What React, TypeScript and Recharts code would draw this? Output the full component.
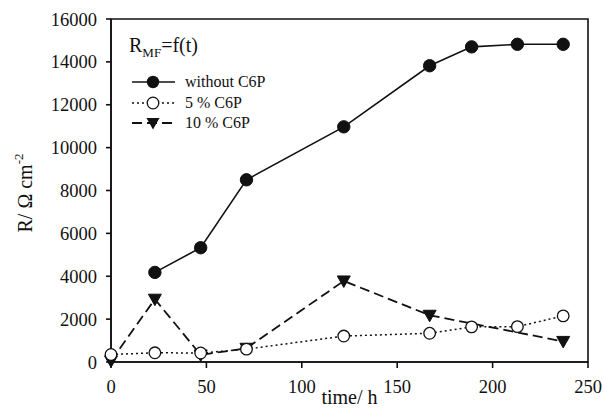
import React from 'react';
import { LineChart, Line, XAxis, YAxis, ReferenceArea, Legend } from 'recharts';

const timeWithout = [23, 47, 71, 122, 167, 189, 213, 237];
const rWithout = [4180, 5330, 8500, 10970, 13820, 14700, 14820, 14820];
const time5 = [0, 23, 47, 71, 122, 167, 189, 213, 237];
const r5 = [350, 430, 420, 600, 1210, 1340, 1640, 1650, 2150];
const time10 = [0, 23, 47, 71, 122, 167, 237];
const r10 = [50, 2930, 330, 640, 3780, 2180, 960];
const xTicks = [0, 50, 100, 150, 200, 250];
const yTicks = [0, 2000, 4000, 6000, 8000, 10000, 12000, 14000, 16000];
const seriesNames = ['without C6P', '5 % C6P', '10 % C6P'];

const FONT = 'Liberation Serif';
const INK = '#111';

const dataWithout = timeWithout.map((t, i) => ({ t, r: rWithout[i] }));
const data5 = time5.map((t, i) => ({ t, r: r5[i] }));
const data10 = time10.map((t, i) => ({ t, r: r10[i] }));

const FilledDot = (p: any) => (
  <circle key={`f-${p.index}`} cx={p.cx} cy={p.cy} r={6.2} fill={INK} stroke={INK} strokeWidth={1} />
);
const OpenDot = (p: any) => (
  <circle key={`o-${p.index}`} cx={p.cx} cy={p.cy} r={5.8} fill="#fff" stroke={INK} strokeWidth={1.3} />
);
const triPath = (cx: number, cy: number) =>
  `M${cx - 6.5},${cy - 5} L${cx + 6.5},${cy - 5} L${cx},${cy + 6.5} Z`;
const TriDot = (p: any) => (
  <path key={`t-${p.index}`} d={triPath(p.cx, p.cy)} fill={INK} stroke={INK} strokeWidth={1} />
);

const LegendContent = () => {
  const row = (i: number) => {
    const y = 10;
    let line;
    let marker;
    if (i === 0) {
      line = <line x1={3} y1={y} x2={46} y2={y} stroke={INK} strokeWidth={1.6} />;
      marker = <circle cx={24} cy={y} r={6.2} fill={INK} />;
    } else if (i === 1) {
      line = <line x1={3} y1={y} x2={46} y2={y} stroke={INK} strokeWidth={1.5} strokeDasharray="2 3" />;
      marker = <circle cx={24} cy={y} r={5.8} fill="#fff" stroke={INK} strokeWidth={1.3} />;
    } else {
      line = <line x1={3} y1={y} x2={46} y2={y} stroke={INK} strokeWidth={1.8} strokeDasharray="10 5" />;
      marker = <path d={triPath(24, y)} fill={INK} />;
    }
    return (
      <div key={i} style={{ display: 'flex', alignItems: 'center', height: 20.5 }}>
        <svg width={56} height={20} style={{ display: 'block' }}>
          {line}
          {marker}
        </svg>
        <span style={{ fontSize: 16, lineHeight: '20px', color: INK, fontFamily: FONT }}>{seriesNames[i]}</span>
      </div>
    );
  };
  return (
    <div style={{ fontFamily: FONT, color: INK }}>
      <div style={{ fontSize: 20, height: 26, lineHeight: '26px', marginBottom: 14 }}>
        R<sub style={{ fontSize: 13, verticalAlign: 'baseline', position: 'relative', top: 5 }}>MF</sub>=f(t)
      </div>
      {row(0)}
      {row(1)}
      {row(2)}
    </div>
  );
};

const YLabel = () => (
  <text
    transform="translate(32,193) rotate(-90)"
    textAnchor="middle"
    fontFamily={FONT}
    fontSize={20}
    fill={INK}
  >
    R/ Ω cm<tspan dy={-9} fontSize={13}>-2</tspan>
  </text>
);

export default function App() {
  return (
    <div style={{ position: 'absolute', left: 0, top: 0, background: '#fff', fontFamily: FONT }}>
      <LineChart width={605} height={416} margin={{ top: 19, right: 17, left: 0, bottom: 0 }} style={{ fontFamily: FONT }}>
        <XAxis
          dataKey="t"
          type="number"
          domain={[0, 250]}
          ticks={xTicks}
          allowDuplicatedCategory={false}
          height={54}
          stroke={INK}
          strokeWidth={1.6}
          tickSize={6}
          tickMargin={12}
          tick={{ fontFamily: FONT, fontSize: 18.5, fill: INK }}
          label={{ value: 'time/ h', position: 'insideBottom', offset: 12, fontFamily: FONT, fontSize: 20, fill: INK }}
        />
        <YAxis
          type="number"
          domain={[0, 16000]}
          ticks={yTicks}
          width={111}
          stroke={INK}
          strokeWidth={1.6}
          tickSize={5}
          tickMargin={9}
          tick={{ fontFamily: FONT, fontSize: 18.5, fill: INK }}
          label={<YLabel />}
        />
        <ReferenceArea x1={0} x2={250} y1={0} y2={16000} fill="none" stroke={INK} strokeWidth={1.6} ifOverflow="visible" />
        <Line
          data={data10}
          dataKey="r"
          name={seriesNames[2]}
          stroke={INK}
          strokeWidth={1.8}
          strokeDasharray="10 5"
          dot={TriDot}
          activeDot={false}
          isAnimationActive={false}
        />
        <Line
          data={data5}
          dataKey="r"
          name={seriesNames[1]}
          stroke={INK}
          strokeWidth={1.5}
          strokeDasharray="2 3"
          dot={OpenDot}
          activeDot={false}
          isAnimationActive={false}
        />
        <Line
          data={dataWithout}
          dataKey="r"
          name={seriesNames[0]}
          stroke={INK}
          strokeWidth={1.6}
          dot={FilledDot}
          activeDot={false}
          isAnimationActive={false}
        />
        <Legend
          layout="vertical"
          align="center"
          verticalAlign="middle"
          content={<LegendContent />}
          wrapperStyle={{ position: 'absolute', left: 129, top: 32, width: 220 }}
        />
      </LineChart>
    </div>
  );
}
